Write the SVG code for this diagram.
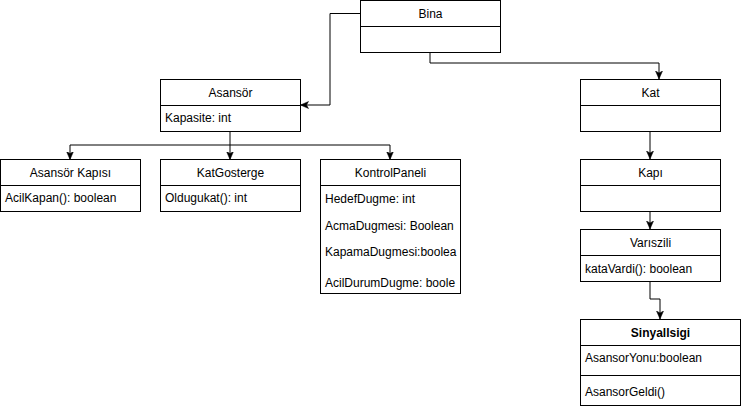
<svg xmlns="http://www.w3.org/2000/svg" width="741" height="409" viewBox="0 0 741 409">
<style>
.box{fill:#fff;stroke:#000;stroke-width:1}
.ln{fill:none;stroke:#000;stroke-width:1}
text{font-family:"Liberation Sans",Arial,sans-serif;font-size:12px;fill:#000}
.t{text-anchor:middle}
.b{font-weight:bold}
.e{fill:none;stroke:#000;stroke-width:1;marker-end:url(#arr)}
</style>
<defs>
<marker id="arr" markerUnits="userSpaceOnUse" markerWidth="10" markerHeight="10" viewBox="0 0 10 10" refX="8" refY="5" orient="auto">
<path d="M0,1.5 L8,5 L0,8.5 L2,5 z" fill="#000" stroke="#000" stroke-width="0.5"/>
</marker>
</defs>
<g id="connectors">
<path class="e" d="M360,13.5 H330 V105 H300.5"/>
<path class="e" d="M430,52 V63 H659 V79"/>
<path class="ln" d="M230,131 V145"/>
<path class="ln" d="M70,145 H390"/>
<path class="e" d="M70,145 V159.5"/>
<path class="e" d="M230,145 V159.5"/>
<path class="e" d="M390,145 V159.5"/>
<path class="e" d="M650,131 V159"/>
<path class="e" d="M650,211 V229"/>
<path class="e" d="M650,281 V299 H660 V319"/>
</g>
<g id="bina">
<rect class="box" x="360.5" y="0.5" width="140" height="52"/>
<path class="ln" d="M360.5,26.5 H500.5"/>
<text class="t" x="430.5" y="18">Bina</text>
</g>
<g id="asansor">
<rect class="box" x="160.5" y="79.5" width="140" height="52"/>
<path class="ln" d="M160.5,105.5 H300.5"/>
<text class="t" x="230.5" y="97">Asansör</text>
<text x="165" y="122">Kapasite: int</text>
</g>
<g id="asansor-kapisi">
<rect class="box" x="0.5" y="159.5" width="140" height="52"/>
<path class="ln" d="M0.5,185.5 H140.5"/>
<text class="t" x="70.5" y="177">Asansör Kapısı</text>
<text x="5" y="202">AcilKapan(): boolean</text>
</g>
<g id="katgosterge">
<rect class="box" x="160.5" y="159.5" width="140" height="52"/>
<path class="ln" d="M160.5,185.5 H300.5"/>
<text class="t" x="230.5" y="177">KatGosterge</text>
<text x="165" y="202">Oldugukat(): int</text>
</g>
<g id="kontrolpaneli">
<rect class="box" x="320.5" y="159.5" width="140" height="134"/>
<path class="ln" d="M320.5,185.5 H460.5"/>
<text class="t" x="390.5" y="177">KontrolPaneli</text>
<text x="325" y="202.5">HedefDugme: int</text>
<text x="325" y="230">AcmaDugmesi: Boolean</text>
<text x="325" y="256">KapamaDugmesi:boolea</text>
<text x="325" y="287">AcilDurumDugme: boole</text>
</g>
<g id="kat">
<rect class="box" x="580.5" y="79.5" width="140" height="52"/>
<path class="ln" d="M580.5,105.5 H720.5"/>
<text class="t" x="650.5" y="97">Kat</text>
</g>
<g id="kapi">
<rect class="box" x="580.5" y="159.5" width="140" height="52"/>
<path class="ln" d="M580.5,185.5 H720.5"/>
<text class="t" x="650.5" y="177">Kapı</text>
</g>
<g id="variszili">
<rect class="box" x="580.5" y="229.5" width="140" height="52"/>
<path class="ln" d="M580.5,255.5 H720.5"/>
<text class="t" x="650.5" y="247">Varıszili</text>
<text x="585" y="273">kataVardi(): boolean</text>
</g>
<g id="sinyallsigi">
<rect class="box" x="580.5" y="319.5" width="160" height="86"/>
<path class="ln" d="M580.5,345.5 H740.5"/>
<path class="ln" d="M580.5,375.5 H740.5"/>
<text class="t b" x="660.5" y="337">Sinyallsigi</text>
<text x="585" y="362">AsansorYonu:boolean</text>
<text x="585" y="396">AsansorGeldi()</text>
</g>
</svg>
